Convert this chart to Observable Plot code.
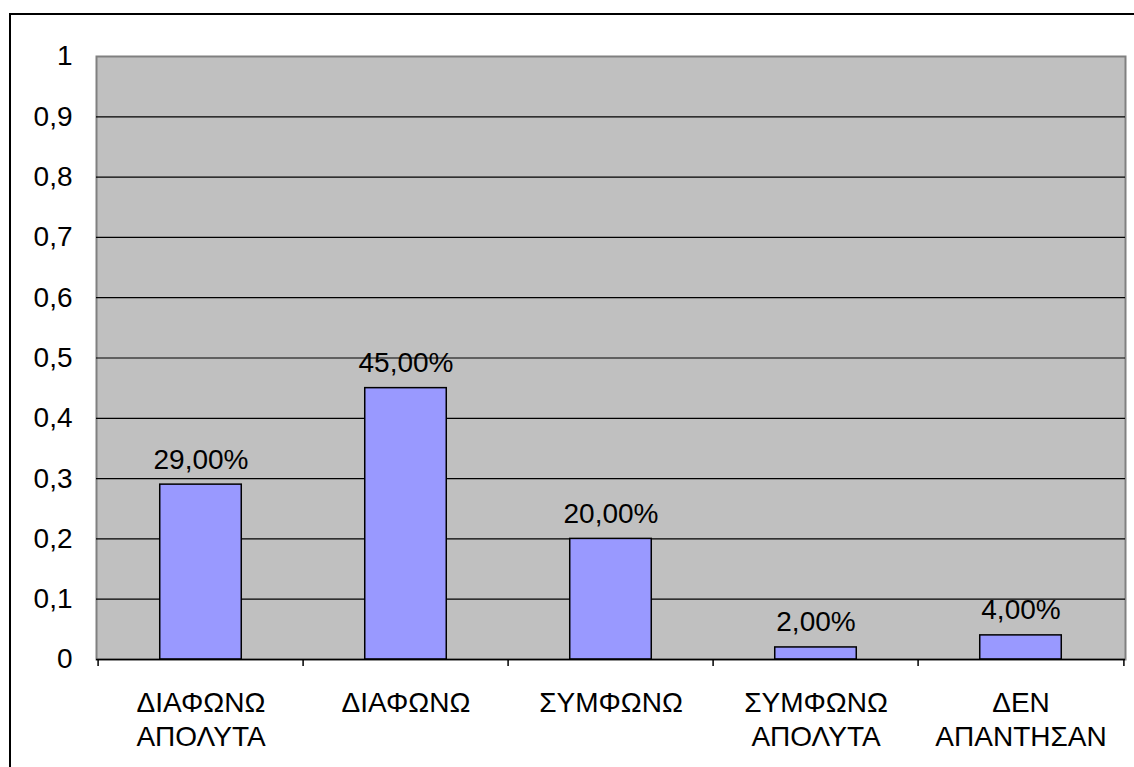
<!DOCTYPE html>
<html>
<head>
<meta charset="utf-8">
<script src="https://cdn.jsdelivr.net/npm/d3@7"></script>
<script src="https://cdn.jsdelivr.net/npm/@observablehq/plot@0.6"></script>
<style>
  html, body { margin: 0; padding: 0; background: #fff; overflow: hidden; }
  #wrap { position: relative; width: 1134px; height: 767px; overflow: hidden; }
  #outer { position: absolute; left: 9px; top: 13px; width: 1200px; height: 800px; border: 2px solid #000; box-sizing: border-box; }
  #chart { position: absolute; left: 0; top: 0; }
</style>
</head>
<body>
<div id="wrap"><div id="outer"></div><div id="chart"></div></div>
<script>
const categories = ["ΔΙΑΦΩΝΩ\nΑΠΟΛΥΤΑ", "ΔΙΑΦΩΝΩ", "ΣΥΜΦΩΝΩ", "ΣΥΜΦΩΝΩ\nΑΠΟΛΥΤΑ", "ΔΕΝ\nΑΠΑΝΤΗΣΑΝ"];
const values = [0.29, 0.45, 0.20, 0.02, 0.04];
const yTicks = [0, 0.1, 0.2, 0.3, 0.4, 0.5, 0.6, 0.7, 0.8, 0.9, 1];

const data = categories.map((c, i) => ({cat: c, value: values[i]}));

const W = 1134, H = 767;
const mL = 96, mR = 9, mT = 56, mB = 108;
const step = (W - mL - mR) / categories.length;
const comma = v => String(v).replace(".", ",");
const pct = v => (v * 100).toFixed(2).replace(".", ",") + "%";

const chart = Plot.plot({
  width: W,
  height: H,
  marginLeft: mL,
  marginRight: mR,
  marginTop: mT,
  marginBottom: mB,
  style: {fontFamily: "'Liberation Sans', Arial, sans-serif", fontSize: "28px", color: "#000", background: "transparent"},
  x: {domain: categories, padding: 0, label: null},
  y: {domain: [0, 1], label: null},
  marks: [
    Plot.frame({fill: "#C0C0C0", stroke: "#808080", strokeWidth: 2}),
    Plot.ruleY(yTicks.filter(t => t > 0 && t < 1), {stroke: "#000", strokeWidth: 1.2}),
    Plot.barY(data, {x: "cat", y: "value", fill: "#9999FF", stroke: "#000", strokeWidth: 1.5, insetLeft: step * 0.3, insetRight: step * 0.3}),
    Plot.text(data, {x: "cat", y: "value", text: d => pct(d.value), lineAnchor: "bottom", dy: -16, fill: "#000", fontSize: 28}),
    Plot.ruleY([0], {stroke: "#000", strokeWidth: 1.5}),
    Plot.ruleX(categories, {x: d => d, dx: -step / 2, y1: 0, y2: 0, insetBottom: -7, stroke: "#000", strokeWidth: 1.5}),
    Plot.ruleX(categories.slice(-1), {x: d => d, dx: step / 2, y1: 0, y2: 0, insetBottom: -7, stroke: "#000", strokeWidth: 1.5}),
    Plot.axisY({ticks: yTicks, tickSize: 0, tickPadding: 24, tickFormat: comma, fontSize: 28}),
    Plot.axisX({tickSize: 0, tickPadding: 29, lineHeight: 1.2, fontSize: 28})
  ]
});
document.getElementById("chart").appendChild(chart);
</script>
</body>
</html>
